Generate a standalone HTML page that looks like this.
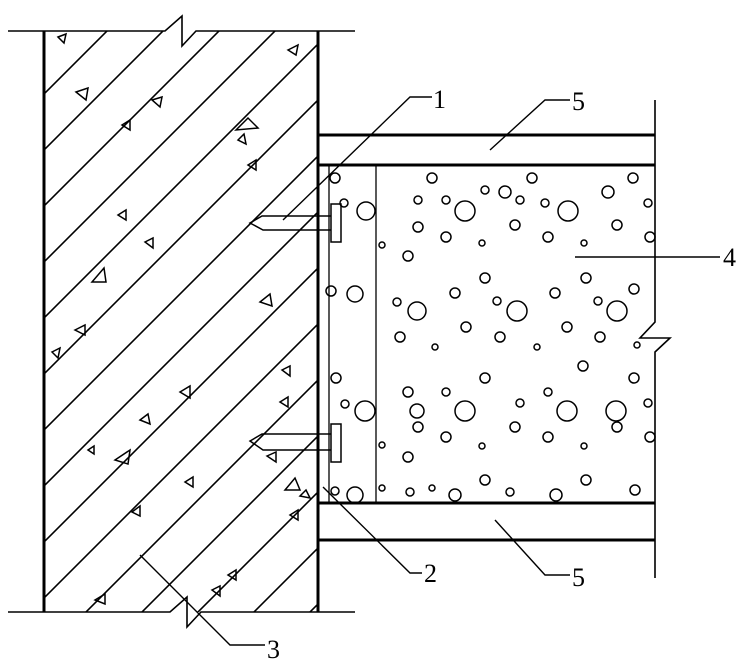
<!DOCTYPE html>
<html><head><meta charset="utf-8"><style>
html,body{margin:0;padding:0;background:#fff;width:742px;height:671px;overflow:hidden;}
svg{display:block}
text{font-family:"Liberation Serif",serif;font-size:26px;fill:#000}
</style></head><body>
<svg width="742" height="671" viewBox="0 0 742 671" xmlns="http://www.w3.org/2000/svg">
<defs>
<clipPath id="wall"><rect x="44" y="31" width="274" height="581"/></clipPath>
</defs>
<g clip-path="url(#wall)" stroke="#000" stroke-width="1.6">
<line x1="-400" y1="538" x2="700" y2="-562"/>
<line x1="-400" y1="594" x2="700" y2="-506"/>
<line x1="-400" y1="650" x2="700" y2="-450"/>
<line x1="-400" y1="706" x2="700" y2="-394"/>
<line x1="-400" y1="762" x2="700" y2="-338"/>
<line x1="-400" y1="818" x2="700" y2="-282"/>
<line x1="-400" y1="874" x2="700" y2="-226"/>
<line x1="-400" y1="930" x2="700" y2="-170"/>
<line x1="-400" y1="986" x2="700" y2="-114"/>
<line x1="-400" y1="1042" x2="700" y2="-58"/>
<line x1="-400" y1="1098" x2="700" y2="-2"/>
<line x1="-400" y1="1154" x2="700" y2="54"/>
<line x1="-400" y1="1210" x2="700" y2="110"/>
<line x1="-400" y1="1266" x2="700" y2="166"/>
<line x1="-400" y1="1322" x2="700" y2="222"/>
<line x1="-400" y1="1378" x2="700" y2="278"/>
<line x1="-400" y1="1434" x2="700" y2="334"/>
<line x1="-400" y1="1490" x2="700" y2="390"/>
<line x1="-400" y1="1546" x2="700" y2="446"/>
</g>
<g fill="none" stroke="#000" stroke-width="1.5">
<path d="M58 37 L66 34 L64 43Z"/><path d="M76 92 L88 88 L86 100Z"/><path d="M152 100 L162 97 L160 107Z"/>
<path d="M122 125 L130 120 L130 130Z"/><path d="M236 130 L248 118 L258 128Z"/><path d="M238 140 L244 134 L246 144Z"/>
<path d="M288 50 L298 45 L296 55Z"/><path d="M248 165 L256 160 L256 170Z"/><path d="M118 215 L126 210 L126 220Z"/>
<path d="M145 242 L153 238 L153 248Z"/><path d="M92 282 L104 268 L106 282Z"/><path d="M260 302 L270 294 L272 306Z"/>
<path d="M75 330 L85 325 L85 335Z"/><path d="M52 352 L60 348 L58 358Z"/><path d="M282 370 L290 366 L290 376Z"/>
<path d="M180 392 L190 386 L190 398Z"/><path d="M280 402 L288 397 L288 407Z"/><path d="M140 420 L148 414 L150 424Z"/>
<path d="M267 456 L276 452 L276 462Z"/><path d="M115 460 L130 450 L128 464Z"/><path d="M88 450 L94 446 L94 454Z"/>
<path d="M185 482 L193 477 L193 487Z"/><path d="M285 490 L295 478 L300 490Z"/><path d="M300 496 L306 490 L310 498Z"/>
<path d="M132 512 L140 506 L140 516Z"/><path d="M228 575 L236 570 L236 580Z"/><path d="M95 600 L105 594 L105 604Z"/>
<path d="M212 590 L220 586 L220 596Z"/><path d="M290 515 L298 510 L298 520Z"/>
</g>
<g stroke="#000" fill="none">
<line x1="44" y1="31" x2="44" y2="612" stroke-width="3"/>
<line x1="318" y1="31" x2="318" y2="612" stroke-width="3"/>
<path d="M8 31 H165 L182 16 V46 L196 31 H355" stroke-width="1.6"/>
<path d="M8 612 H170 L187 597 V627 L201 612 H355" stroke-width="1.6"/>
</g>
<g stroke="#000" fill="none">
<line x1="318" y1="135" x2="655" y2="135" stroke-width="3"/>
<line x1="318" y1="165" x2="655" y2="165" stroke-width="3"/>
<line x1="318" y1="503" x2="655" y2="503" stroke-width="3"/>
<line x1="318" y1="540" x2="655" y2="540" stroke-width="3"/>
<path d="M655 100 V322 L640 338 H670 L655 352 V578" stroke-width="1.6"/>
<line x1="329" y1="165" x2="329" y2="503" stroke-width="1.3"/>
<line x1="376" y1="165" x2="376" y2="503" stroke-width="1.3"/>
</g>
<g stroke="#000" fill="none" stroke-width="1.5">
<path d="M331 216 H262 L250 223 L263 230 H331"/>
<rect x="331" y="204" width="10" height="38"/>
<path d="M331 434 H262 L250 441 L263 450 H331"/>
<rect x="331" y="424" width="10" height="38"/>
</g>
<g fill="none" stroke="#000" stroke-width="1.5">
<circle cx="366" cy="211" r="9"/><circle cx="355" cy="294" r="8"/><circle cx="365" cy="411" r="10"/><circle cx="355" cy="495" r="8"/>
<circle cx="465" cy="211" r="10"/><circle cx="568" cy="211" r="10"/><circle cx="517" cy="311" r="10"/><circle cx="417" cy="311" r="9"/>
<circle cx="617" cy="311" r="10"/><circle cx="465" cy="411" r="10"/><circle cx="567" cy="411" r="10"/><circle cx="417" cy="411" r="7"/>
<circle cx="616" cy="411" r="10"/>
<circle cx="335" cy="178" r="5"/><circle cx="344" cy="203" r="4"/><circle cx="331" cy="291" r="5"/><circle cx="336" cy="378" r="5"/>
<circle cx="345" cy="404" r="4"/><circle cx="335" cy="491" r="4"/>
<circle cx="432" cy="178" r="5"/><circle cx="485" cy="190" r="4"/><circle cx="505" cy="192" r="6"/><circle cx="532" cy="178" r="5"/>
<circle cx="608" cy="192" r="6"/><circle cx="633" cy="178" r="5"/><circle cx="418" cy="200" r="4"/><circle cx="520" cy="200" r="4"/>
<circle cx="446" cy="200" r="4"/><circle cx="545" cy="203" r="4"/><circle cx="648" cy="203" r="4"/><circle cx="418" cy="227" r="5"/>
<circle cx="515" cy="225" r="5"/><circle cx="617" cy="225" r="5"/><circle cx="446" cy="237" r="5"/><circle cx="548" cy="237" r="5"/>
<circle cx="650" cy="237" r="5"/><circle cx="408" cy="256" r="5"/><circle cx="482" cy="243" r="3"/><circle cx="584" cy="243" r="3"/>
<circle cx="485" cy="278" r="5"/><circle cx="586" cy="278" r="5"/><circle cx="397" cy="302" r="4"/><circle cx="455" cy="293" r="5"/>
<circle cx="497" cy="301" r="4"/><circle cx="555" cy="293" r="5"/><circle cx="598" cy="301" r="4"/><circle cx="634" cy="289" r="5"/>
<circle cx="400" cy="337" r="5"/><circle cx="466" cy="327" r="5"/><circle cx="500" cy="337" r="5"/><circle cx="567" cy="327" r="5"/>
<circle cx="600" cy="337" r="5"/><circle cx="435" cy="347" r="3"/><circle cx="537" cy="347" r="3"/><circle cx="637" cy="345" r="3"/>
<circle cx="583" cy="366" r="5"/><circle cx="485" cy="378" r="5"/><circle cx="408" cy="392" r="5"/><circle cx="446" cy="392" r="4"/>
<circle cx="548" cy="392" r="4"/><circle cx="634" cy="378" r="5"/><circle cx="520" cy="403" r="4"/><circle cx="648" cy="403" r="4"/>
<circle cx="418" cy="427" r="5"/><circle cx="515" cy="427" r="5"/><circle cx="617" cy="427" r="5"/><circle cx="446" cy="437" r="5"/>
<circle cx="548" cy="437" r="5"/><circle cx="650" cy="437" r="5"/><circle cx="382" cy="445" r="3"/><circle cx="482" cy="446" r="3"/>
<circle cx="584" cy="446" r="3"/><circle cx="408" cy="457" r="5"/><circle cx="485" cy="480" r="5"/><circle cx="586" cy="480" r="5"/>
<circle cx="455" cy="495" r="6"/><circle cx="556" cy="495" r="6"/><circle cx="635" cy="490" r="5"/><circle cx="410" cy="492" r="4"/>
<circle cx="510" cy="492" r="4"/><circle cx="432" cy="488" r="3"/><circle cx="382" cy="488" r="3"/><circle cx="382" cy="245" r="3"/>
</g>
<g stroke="#000" fill="none" stroke-width="1.4">
<path d="M283 220 L410 97 H432"/>
<path d="M490 150 L545 100 H570"/>
<path d="M575 257 H720"/>
<path d="M323 487 L410 573 H422"/>
<path d="M495 520 L545 575 H570"/>
<path d="M140 555 L230 645 H265"/>
</g>
<text x="433" y="108">1</text>
<text x="572" y="110">5</text>
<text x="723" y="266">4</text>
<text x="424" y="582">2</text>
<text x="572" y="586">5</text>
<text x="267" y="658">3</text>
</svg>
</body></html>
